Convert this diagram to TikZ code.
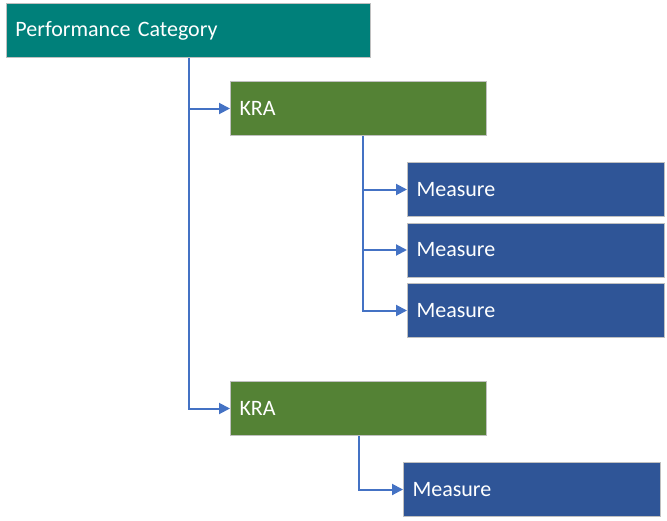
\documentclass[tikz,border=0pt]{standalone}
\usepackage{fontspec}
\setmainfont{Carlito}
\usetikzlibrary{arrows.meta}
\definecolor{teal1}{HTML}{00807A}
\definecolor{green1}{HTML}{548235}
\definecolor{blue1}{HTML}{2F5597}
\definecolor{line1}{HTML}{4472C4}
\definecolor{edge1}{HTML}{C0C0C0}
\begin{document}
\begin{tikzpicture}[x=1pt,y=-1pt,
  box/.style={draw=edge1, line width=1pt, text=white, anchor=north west,
    minimum height=54pt, inner xsep=9pt, align=left,
    font=\fontsize{22}{26}\selectfont},
  pcbox/.style={box, fill=teal1, text width=346pt},
  krabox/.style={box, fill=green1, text width=238pt},
  mbox/.style={box, fill=blue1, text width=239pt},
  conn/.style={draw=line1, line width=2pt, -{Triangle[length=11pt,width=11pt]}}]
\useasboundingbox (0,0) rectangle (667,520);
\node[pcbox] (pc) at (6,3) {Performance Category};
\node[krabox] (k1) at (230,81) {KRA};
\node[mbox] (m1) at (407,162) {Measure};
\node[mbox] (m2) at (407,222.5) {Measure};
\node[mbox] (m3) at (407,283) {Measure};
\node[krabox] (k2) at (230,381) {KRA};
\node[mbox] (m4) at (403,462) {Measure};
\draw[conn] (pc.south) |- (k1.west);
\draw[conn] (pc.south) |- (k2.west);
\draw[conn] ([xshift=4pt]k1.south) |- (m1.west);
\draw[conn] ([xshift=4pt]k1.south) |- (m2.west);
\draw[conn] ([xshift=4pt]k1.south) |- (m3.west);
\draw[conn] (k2.south) |- (m4.west);
\end{tikzpicture}
\end{document}
